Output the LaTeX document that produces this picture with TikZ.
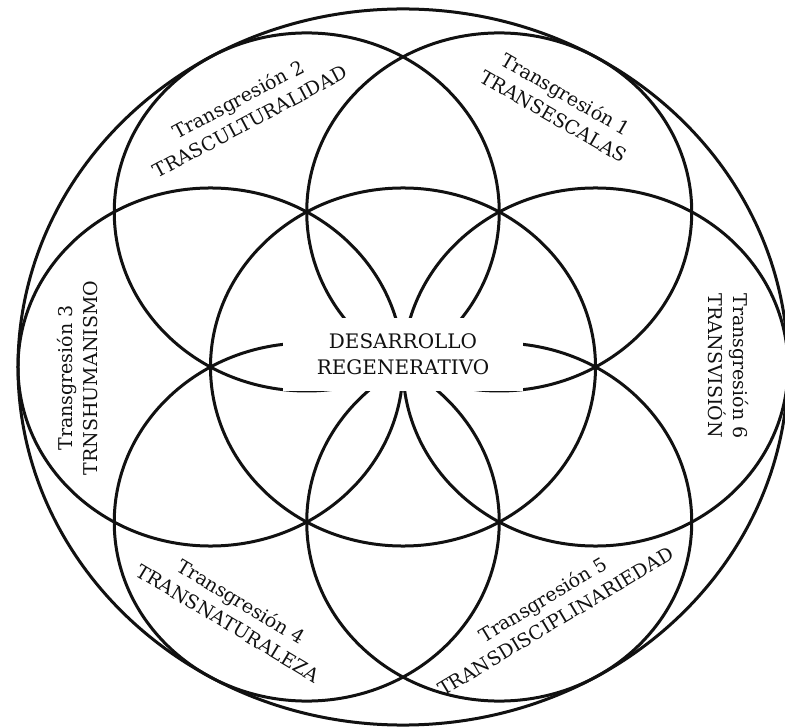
\documentclass[tikz,border=0pt]{standalone}
\usepackage{fontspec}
\setmainfont{DejaVu Serif}
\definecolor{SeedInk}{HTML}{111111}
\tikzset{
  seedring/.style={
    draw=SeedInk,
    line width=3pt
  },
  seedlabel/.style={
    align=center,
    inner sep=0pt,
    text=SeedInk,
    font=\fontsize{19}{25}\selectfont
  },
  seedcore/.style={
    fill=white,
    align=center,
    inner sep=0pt,
    minimum width=240pt,
    minimum height=73pt,
    text=SeedInk,
    font=\fontsize{20}{26}\selectfont
  }
}
\begin{document}
\begin{tikzpicture}[x=1pt,y=1pt]
  \useasboundingbox (-403,-361) rectangle (382,367);
  \clip (-403,-361) rectangle (382,367);
  \begin{scope}[yscale=0.93]
    \draw[seedring] (0,0) circle[radius=385];
    \draw[seedring] (0,0) circle[radius=192.5];
    \foreach \ang in {0,60,...,300}
      \draw[seedring] (\ang:192.5) circle[radius=192.5];
  \end{scope}
  \node[seedcore] (core) at (0,12.5) {DESARROLLO\\REGENERATIVO};
  \node[seedlabel,rotate=-30] (trans1) at (157,262) {Transgresión 1\\TRANSESCALAS};
  \node[seedlabel,rotate=28] (trans2) at (-159,257) {Transgresión 2\\TRASCULTURALIDAD};
  \node[seedlabel,rotate=90] (trans3) at (-325,-11) {Transgresión 3\\TRNSHUMANISMO};
  \node[seedlabel,rotate=-31] (trans4) at (-168,-245) {Transgresión 4\\TRANSNATURALEZA};
  \node[seedlabel,rotate=31] (trans5) at (146,-243) {Transgresión 5\\TRANSDISCIPLINARIEDAD};
  \node[seedlabel,rotate=-90] (trans6) at (325,1) {Transgresión 6\\TRANSVISIÓN};
\end{tikzpicture}
\end{document}
